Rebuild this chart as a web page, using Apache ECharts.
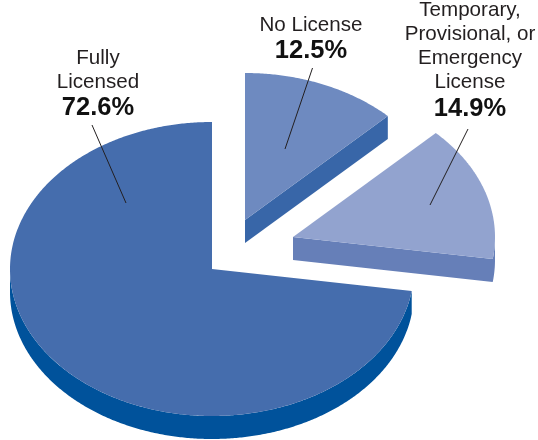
<!DOCTYPE html>
<html>
<head>
<meta charset="utf-8">
<style>html,body{margin:0;padding:0;background:#fff}#c{width:538px;height:440px}</style>
<script src="https://cdn.jsdelivr.net/npm/echarts@6/dist/echarts.min.js"></script>
</head>
<body>
<div id="c"></div>
<script>
// Data, clockwise from 12 o'clock
var categories = ['No License', 'Temporary,\nProvisional, or\nEmergency\nLicense', 'Fully\nLicensed'];
var values = [12.5, 14.9, 72.6];

// Appearance and layout
var topColors = ['#6E8AC0', '#92A3CF', '#456DAD'];
var sideColors = ['#3866A8', '#667FB8', '#00529B'];
var apexes = [[245, 220], [293, 237], [212, 269]];
var labelX = [311, 470, 98];
var valueBaselines = [59, 116.5, 116];
var leaders = [[[312.5, 68], [285, 149]], [[468, 129], [430, 205]], [[92, 125], [126, 203]]];
var RX = 202, RY = 147, DEPTH = 23, LINE = 24;
var FONT = '"Liberation Sans", Arial, sans-serif';
var INK = '#231F20';

var total = values.reduce(function (a, b) { return a + b; }, 0);
function startAngle(i) { // degrees counter-clockwise from 3 o'clock
  var s = 0;
  for (var k = 0; k < i; k++) s += values[k];
  return 90 - s / total * 360;
}
function pt(c, deg, dy) {
  var r = deg * Math.PI / 180;
  return [c[0] + RX * Math.cos(r), c[1] - RY * Math.sin(r) + (dy || 0)];
}
function arc(c, from, to, dy) {
  var n = Math.max(2, Math.ceil(Math.abs(to - from) * 2)), out = [];
  for (var i = 0; i <= n; i++) out.push(pt(c, from + (to - from) * i / n, dy));
  return out;
}
function renderItem(params, api) {
  var i = params.dataIndex;
  var c = apexes[i];
  var hi = startAngle(i);                 // upper end of wedge
  var lo = hi - api.value(1) / total * 360; // lower end of wedge
  var children = [];

  // extruded side: the arc part facing the viewer (angles -180..0) plus lower radial edge
  var aFrom = Math.max(lo, -180), aTo = Math.min(hi, 0);
  var edgeVisible = Math.cos(lo * Math.PI / 180) > 1e-6 && lo > -90;
  var side = [];
  if (edgeVisible) side.push([c[0], c[1]]);
  var hasArc = aTo > aFrom;
  var top = hasArc ? arc(c, aFrom, aTo, 0) : [pt(c, lo, 0)];
  var bottom = hasArc ? arc(c, aTo, aFrom, DEPTH) : [pt(c, lo, DEPTH)];
  side = side.concat(top, bottom);
  if (edgeVisible) side.push([c[0], c[1] + DEPTH]);
  children.push({ type: 'polygon', shape: { points: side }, style: { fill: sideColors[i] } });

  // top face
  children.push({
    type: 'polygon',
    shape: { points: [[c[0], c[1]]].concat(arc(c, lo, hi, 0)) },
    style: { fill: topColors[i] }
  });

  // leader line
  var l = leaders[i];
  children.push({
    type: 'line',
    shape: { x1: l[0][0], y1: l[0][1], x2: l[1][0], y2: l[1][1] },
    style: { stroke: '#231F20', lineWidth: 1 }
  });

  // label: name lines + bold value
  var lines = categories[i].split('\n');
  var base = valueBaselines[i];
  children.push({
    type: 'text',
    style: {
      x: labelX[i], y: base + 5, text: api.value(1).toFixed(1) + '%',
      fill: '#111', align: 'center', verticalAlign: 'bottom',
      font: 'bold 25.5px ' + FONT
    }
  });
  lines.forEach(function (t, k) {
    children.push({
      type: 'text',
      style: {
        x: labelX[i], y: base - 23.5 - (lines.length - 1 - k) * LINE, text: t,
        fill: INK, align: 'center', verticalAlign: 'bottom',
        font: '20.6px ' + FONT
      }
    });
  });
  return { type: 'group', children: children };
}

var chart = echarts.init(document.getElementById('c'), null, { renderer: 'canvas' });
chart.setOption({
  animation: false,
  backgroundColor: '#fff',
  series: [{
    type: 'custom',
    coordinateSystem: 'none',
    silent: true,
    renderItem: renderItem,
    data: categories.map(function (n, i) { return [i, values[i]]; })
  }]
});
</script>
</body>
</html>
